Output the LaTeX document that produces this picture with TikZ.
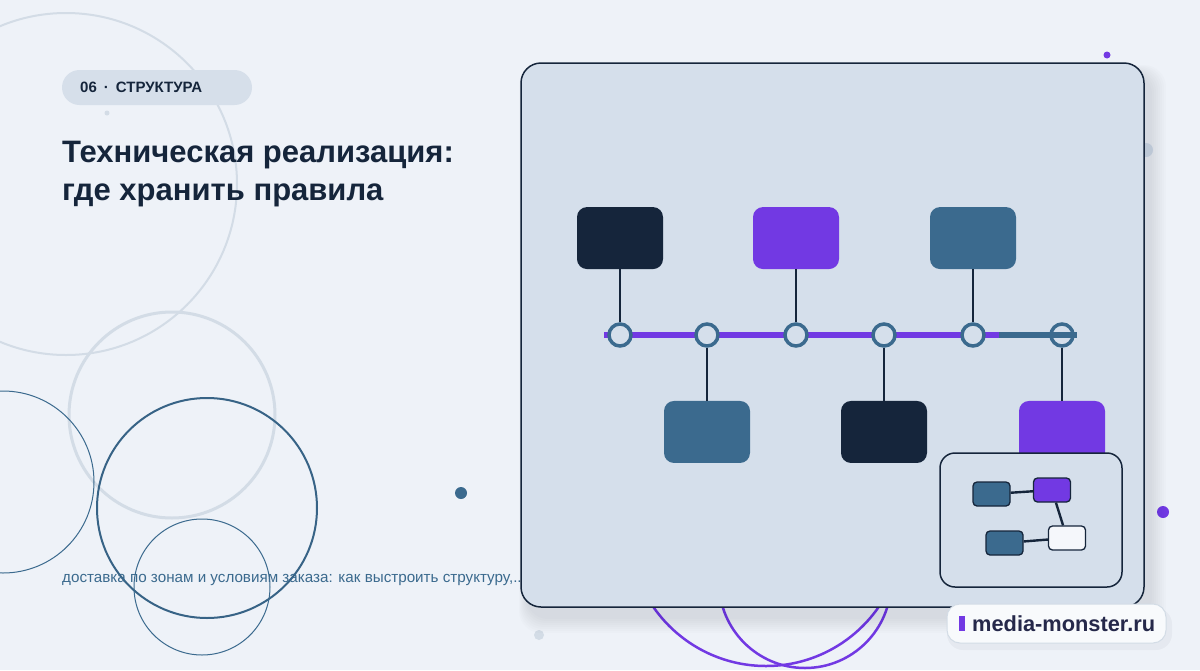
\documentclass[tikz,border=0pt]{standalone}
\usepackage{fontspec}
\setmainfont{Liberation Sans}
\usetikzlibrary{positioning}
\definecolor{pagebg}{HTML}{EEF2F8}
\definecolor{panel}{HTML}{D5DFEB}
\definecolor{ink}{HTML}{15253B}
\definecolor{violet}{HTML}{7239E3}
\definecolor{steel}{HTML}{3B6A8E}
\definecolor{ring}{HTML}{D3DCE6}
\definecolor{pill}{HTML}{D6DFEA}
\definecolor{badgeink}{HTML}{25284A}
\tikzset{
  box/.style={rounded corners=10pt,minimum width=86pt,minimum height=62pt,inner sep=0pt},
  knot/.style={circle,draw=steel,line width=3.5pt,fill=panel,minimum size=22pt,inner sep=0pt},
  link/.style={draw=ink,line width=2.4pt},
  mini/.style={rounded corners=4pt,draw=ink,line width=1.3pt,minimum width=37pt,minimum height=24pt,inner sep=0pt},
}
\begin{document}
\begin{tikzpicture}[x=1pt,y=-1pt,node distance=53pt]
	\def\ty{335}
	\useasboundingbox (0,0) rectangle (1200,670);
	\fill[pagebg] (0,0) rectangle (1200,670);
	% decorative rings
	\draw[ring,line width=2pt] (66,184) circle (171pt);
	\draw[ring,line width=3pt] (172,415) circle (103pt);
	\draw[steel,line width=1pt] (3,482) circle (91pt);
	\draw[steel!90!ink,line width=2pt] (207,508) circle (110pt);
	\draw[steel,line width=1pt] (202,587) circle (68pt);
	\draw[violet,line width=2.5pt] (766,529) circle (137pt);
	\draw[violet,line width=2.5pt] (805,582) circle (86pt);
	\fill[steel] (461,493) circle (6pt);
	\fill[ring] (107,113) circle (2.5pt) (539,635) circle (5pt) (1146,150) circle (7pt);
	\fill[violet] (1107,55) circle (3.5pt) (1163,512) circle (6pt);
	% texts
	\node[fill=pill,rounded corners=17.5pt,minimum width=190pt,minimum height=35pt] (tag) at (157,87.5) {};
	\node[anchor=west,inner sep=0pt,text=ink,font=\fontsize{15}{17}\selectfont\bfseries] (tagtext) at (80,87.5) {06\hspace{7pt}·\hspace{7pt}СТРУКТУРА};
	\node[anchor=north west,inner sep=0pt,align=left,text=ink,font=\fontsize{31}{38}\selectfont\bfseries] (title) at (62,141) {Техническая реализация:\\где хранить правила};
	\node[anchor=base west,inner sep=0pt,text=steel,font=\fontsize{15.2}{17}\selectfont] (lead) at (62,582) {доставка по зонам и условиям заказа: как выстроить структуру,...};
	% panel with soft shadow
	\foreach \s in {2,4,...,16}
		\fill[ink,opacity=0.012,rounded corners=22pt] (521-\s/2+6,63-\s/2+10) rectangle (1144+\s+6,607+\s+10);
	\draw[ink,line width=1.5pt,fill=panel,rounded corners=20pt] (521,63) rectangle (1144,607);
	% timeline
	\coordinate (tl-start) at (604,\ty);
	\coordinate (tl-mid) at (999,\ty);
	\coordinate (tl-end) at (1077,\ty);
	\draw[violet,line width=6pt] (tl-start) -- (tl-mid);
	\foreach \i/\x in {1/620,2/707,3/796,4/884,5/973,6/1062}
		\node[knot] (c\i) at (\x,\ty) {};
	\draw[steel,line width=6pt] (tl-mid) -- (tl-end);
	\node[box,fill=ink,above=of c1] (top1) {};
	\node[box,fill=violet,above=of c3] (top2) {};
	\node[box,fill=steel,above=of c5] (top3) {};
	\node[box,fill=steel,below=of c2] (bot1) {};
	\node[box,fill=ink,below=of c4] (bot2) {};
	\node[box,fill=violet,below=of c6] (bot3) {};
	\draw[link] (top1) -- (c1) (top2) -- (c3) (top3) -- (c5);
	\draw[link] (c2) -- (bot1) (c4) -- (bot2) (c6) -- (bot3);
	% inset map
	\node[draw=ink,line width=1.5pt,fill=panel,rounded corners=15pt,minimum width=182pt,minimum height=134pt] (inset) at (1031,520) {};
	\node[mini,fill=steel] (ma) at (991.5,494) {};
	\node[mini,fill=violet] (mb) at (1052,490) {};
	\node[mini,fill=steel] (mc) at (1004.5,543) {};
	\node[mini,fill=pagebg!60!white] (md) at (1067,538) {};
	\draw[link] (ma) -- (mb) (mb) -- (md) (mc) -- (md);
	% badge
	\fill[ink,opacity=0.04,rounded corners=16pt] (947,608) rectangle (1172,650);
	\node[draw=ring,line width=1pt,fill=white!60!pagebg,rounded corners=13pt,minimum width=219pt,minimum height=39pt] (badge) at (1056.5,623.5) {};
	\fill[violet] (959,616) rectangle (965,631);
	\node[anchor=west,inner sep=0pt,text=badgeink,font=\fontsize{21.8}{24}\selectfont\bfseries] (site) at (972,624) {media-monster.ru};
\end{tikzpicture}
\end{document}
